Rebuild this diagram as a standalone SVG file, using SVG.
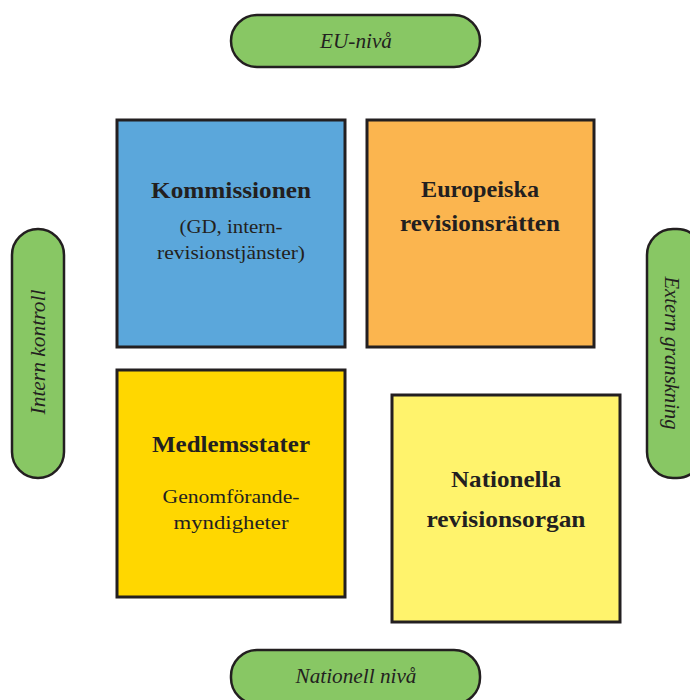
<svg xmlns="http://www.w3.org/2000/svg" width="690" height="700" viewBox="0 0 690 700">
<style>
.box{stroke:#231F20;stroke-width:3}
.pill{fill:#88C764;stroke:#231F20;stroke-width:2.5}
.t{font-family:"Liberation Serif","DejaVu Serif",serif;fill:#231F20;text-anchor:middle}
.b{font-weight:bold;font-size:23px}
.s{font-size:19.5px}
.i{font-style:italic;font-size:21px}
</style>
<rect width="690" height="700" fill="#fff"/>
<g id="eu-niva"><rect class="pill" x="231" y="15" width="249" height="52" rx="26"/><text class="t i" x="356" y="48" textLength="72" lengthAdjust="spacingAndGlyphs">EU-nivå</text></g>
<g id="nationell-niva"><rect class="pill" x="231" y="650" width="249" height="54" rx="26"/><text class="t i" x="356" y="683" textLength="121" lengthAdjust="spacingAndGlyphs">Nationell nivå</text></g>
<g id="intern-kontroll"><rect class="pill" x="12" y="229" width="52" height="249" rx="26"/><text class="t i" transform="translate(45 352) rotate(-90)" textLength="125" lengthAdjust="spacingAndGlyphs">Intern kontroll</text></g>
<g id="extern-granskning"><rect class="pill" x="647" y="229" width="56" height="249" rx="26"/><text class="t i" transform="translate(665 353) rotate(90)" textLength="153" lengthAdjust="spacingAndGlyphs">Extern granskning</text></g>
<g id="kommissionen"><rect class="box" x="117" y="120" width="228" height="227" fill="#5BA7DB"/><text class="t b" x="231" y="198" textLength="160" lengthAdjust="spacingAndGlyphs">Kommissionen</text><text class="t s" x="231" y="233" textLength="103" lengthAdjust="spacingAndGlyphs">(GD, intern-</text><text class="t s" x="231" y="259" textLength="148" lengthAdjust="spacingAndGlyphs">revisionstjänster)</text></g>
<g id="revisionsratten"><rect class="box" x="367" y="120" width="227" height="227" fill="#FBB54F"/><text class="t b" x="480" y="197" textLength="118" lengthAdjust="spacingAndGlyphs">Europeiska</text><text class="t b" x="480" y="231" textLength="160" lengthAdjust="spacingAndGlyphs">revisionsrätten</text></g>
<g id="medlemsstater"><rect class="box" x="117" y="370" width="228" height="227" fill="#FFD700"/><text class="t b" x="231" y="452" textLength="158" lengthAdjust="spacingAndGlyphs">Medlemsstater</text><text class="t s" x="231" y="503" textLength="137" lengthAdjust="spacingAndGlyphs">Genomförande-</text><text class="t s" x="231" y="529" textLength="115" lengthAdjust="spacingAndGlyphs">myndigheter</text></g>
<g id="nationella"><rect class="box" x="392" y="395" width="228" height="227" fill="#FFF36C"/><text class="t b" x="506" y="487" textLength="110" lengthAdjust="spacingAndGlyphs">Nationella</text><text class="t b" x="506" y="527" textLength="159" lengthAdjust="spacingAndGlyphs">revisionsorgan</text></g>
<g id="connectors"/>
</svg>
